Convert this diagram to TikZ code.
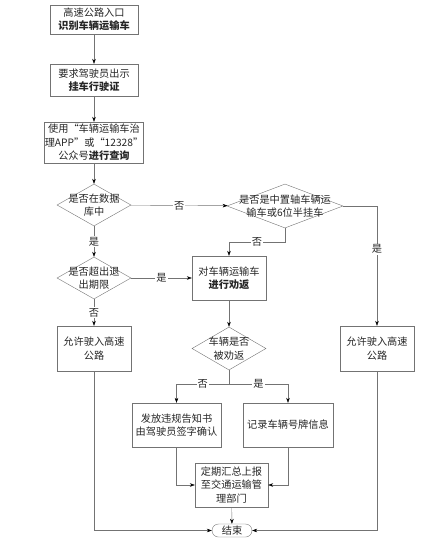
\documentclass[tikz,border=0pt]{standalone}
\usepackage{fontspec}
\setmainfont{Noto Sans CJK SC}
\usetikzlibrary{arrows.meta, shapes.geometric}

\begin{document}
\begin{tikzpicture}[x=1pt, y=-1pt, >={Stealth[length=5pt, width=3.6pt, color=black]},
  every node/.style={font=\fontsize{10.2}{13.5}\selectfont, text=black!85},
  proc/.style={draw=black!55, align=center, inner sep=0pt},
  test/.style={diamond, draw=black!55, inner sep=0pt},
  yn/.style={fill=white, inner sep=1pt},
  flow/.style={draw=black!55, ->}]
  \useasboundingbox (0,0) rectangle (443,547);
  \node[proc, minimum width=88pt, minimum height=29pt] (entry) at (94,19.5) {高速公路入口\\\textbf{识别车辆运输车}};
  \node[proc, minimum width=88pt, minimum height=32pt] (license) at (94,80) {要求驾驶员出示\\\textbf{挂车行驶证}};
  \node[proc, minimum width=99pt, minimum height=41pt] (query) at (94,142.5) {使用“车辆运输车治\\理APP”或“12328”\\公众号\textbf{进行查询}};
  \node[test, minimum width=74pt, minimum height=42pt, label={[align=center]center:{是否在数据\\库中}}] (indb) at (94,205) {};
  \node[test, minimum width=116pt, minimum height=44pt, label={[align=center]center:{是否是中置轴车辆运\\输车或6位半挂车}}] (midaxle) at (285,206) {};
  \node[test, minimum width=74pt, minimum height=42pt, label={[align=center]center:{是否超出退\\出期限}}] (overdue) at (94,278) {};
  \node[proc, minimum width=74pt, minimum height=44pt] (persuade) at (229,278) {对车辆运输车\\\textbf{进行劝返}};
  \node[proc, minimum width=74pt, minimum height=45pt] (allowL) at (94,348.5) {允许驶入高速\\公路};
  \node[test, minimum width=74pt, minimum height=43pt, label={[align=center]center:{车辆是否\\被劝返}}] (returned) at (229,348.5) {};
  \node[proc, minimum width=74pt, minimum height=45pt] (allowR) at (377,348.5) {允许驶入高速\\公路};
  \node[proc, minimum width=89pt, minimum height=44pt] (notice) at (176.5,425) {发放违规告知书\\由驾驶员签字确认};
  \node[proc, minimum width=90pt, minimum height=44pt] (record) at (288,425) {记录车辆号牌信息};
  \node[proc, minimum width=73pt, minimum height=44pt] (report) at (231.5,485) {定期汇总上报\\至交通运输管\\理部门};
  \node[draw=black!55, rounded corners=6.5pt, minimum width=40pt, minimum height=13pt, inner sep=0pt] (finish) at (232,530.5) {结束};

  \draw[flow] (entry) -- (license);
  \draw[flow] (license) -- (query);
  \draw[flow] (query) -- (indb);
  \draw[flow] (indb) -- node[yn] {否} (midaxle);
  \draw[flow] (midaxle.south) -- ++(0,14) -| node[yn, pos=0.25] {否} (persuade.north);
  \draw[flow] (midaxle.east) -| node[yn, pos=0.68] {是} (allowR.north);
  \draw[flow] (indb) -- node[yn] {是} (overdue);
  \draw[flow] (overdue) -- node[yn] {是} (persuade);
  \draw[flow] (overdue) -- node[yn] {否} (allowL);
  \draw[flow] (persuade) -- (returned);
  \draw[flow] (returned.south) -- ++(0,14) -| node[yn, pos=0.25] {否} (notice.north);
  \draw[flow] (returned.south) -- ++(0,14) -| node[yn, pos=0.25] {是} (record.north);
  \draw[flow] (notice.south) |- (report.west);
  \draw[flow] (record.south) |- (report.east);
  \draw[flow] (report) -- (finish);
  \draw[flow] (allowL.south) |- (finish.west);
  \draw[flow] (allowR.south) |- (finish.east);
\end{tikzpicture}
\end{document}
